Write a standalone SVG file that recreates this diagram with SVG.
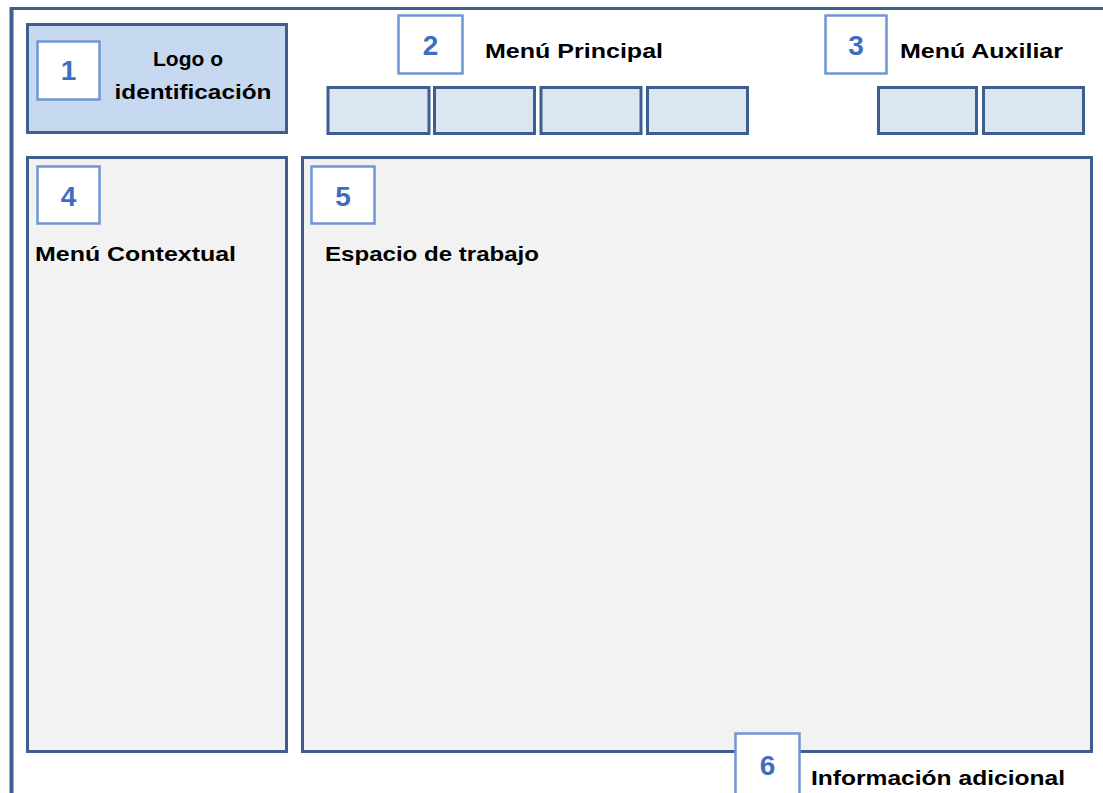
<svg xmlns="http://www.w3.org/2000/svg" width="1103" height="793" viewBox="0 0 1103 793">
<style>
.panel{stroke:#3d5f8f;stroke-width:3}
.num{fill:#fff;stroke:#6f97d2;stroke-width:2.5}
.digit{font-family:"Liberation Sans",Arial,sans-serif;font-weight:bold;font-size:28px;fill:#3d6fc0;text-anchor:middle}
.lbl{font-family:"Liberation Sans",Arial,sans-serif;font-weight:bold;font-size:21px;fill:#000}
.btn{fill:#dce6f2;stroke:#3d5f8f;stroke-width:3}
</style>
<rect width="1103" height="793" fill="#fff"/>
<g id="frame">
<line x1="11.5" y1="8.5" x2="1103" y2="8.5" stroke="#3d5f8f" stroke-width="3"/>
<line x1="11.5" y1="7" x2="11.5" y2="793" stroke="#3d5f8f" stroke-width="4"/>
</g>
<g id="node1">
<rect x="27.5" y="24.5" width="259" height="108" fill="#c6d9f1" class="panel"/>
<rect x="37.5" y="41.5" width="62" height="58" class="num"/>
<text x="68.5" y="80" class="digit">1</text>
<text x="188" y="66" class="lbl" text-anchor="middle">Logo o</text>
<text x="193" y="99" class="lbl" text-anchor="middle" textLength="157" lengthAdjust="spacingAndGlyphs">identificación</text>
</g>
<g id="node2">
<rect x="398.5" y="15.5" width="64" height="58" class="num"/>
<text x="430.5" y="55" class="digit">2</text>
<text x="485" y="58" class="lbl" textLength="178" lengthAdjust="spacingAndGlyphs">Menú Principal</text>
<rect x="328" y="87.5" width="101" height="46" class="btn"/>
<rect x="434.5" y="87.5" width="100" height="46" class="btn"/>
<rect x="541" y="87.5" width="100" height="46" class="btn"/>
<rect x="647.5" y="87.5" width="100" height="46" class="btn"/>
</g>
<g id="node3">
<rect x="825.5" y="15.5" width="61" height="58" class="num"/>
<text x="856" y="55" class="digit">3</text>
<text x="900" y="58" class="lbl" textLength="163" lengthAdjust="spacingAndGlyphs">Menú Auxiliar</text>
<rect x="878.5" y="87.5" width="98" height="46" class="btn"/>
<rect x="983.5" y="87.5" width="100" height="46" class="btn"/>
</g>
<g id="node4">
<rect x="27.5" y="157.5" width="259" height="594" fill="#f2f2f2" class="panel"/>
<rect x="37.5" y="166.5" width="62" height="57" class="num"/>
<text x="68.5" y="206" class="digit">4</text>
<text x="35" y="261" class="lbl" textLength="201" lengthAdjust="spacingAndGlyphs">Menú Contextual</text>
</g>
<g id="node5">
<rect x="302.5" y="157.5" width="789" height="594" fill="#f2f2f2" class="panel"/>
<rect x="311.5" y="166.5" width="63" height="57" class="num"/>
<text x="343" y="206" class="digit">5</text>
<text x="325" y="261" class="lbl" textLength="214" lengthAdjust="spacingAndGlyphs">Espacio de trabajo</text>
</g>
<g id="node6">
<rect x="735.5" y="733.5" width="64" height="62" class="num"/>
<text x="767.5" y="775" class="digit">6</text>
<text x="811" y="785" class="lbl" textLength="254" lengthAdjust="spacingAndGlyphs">Información adicional</text>
</g>
<g id="connectors"></g>
</svg>
